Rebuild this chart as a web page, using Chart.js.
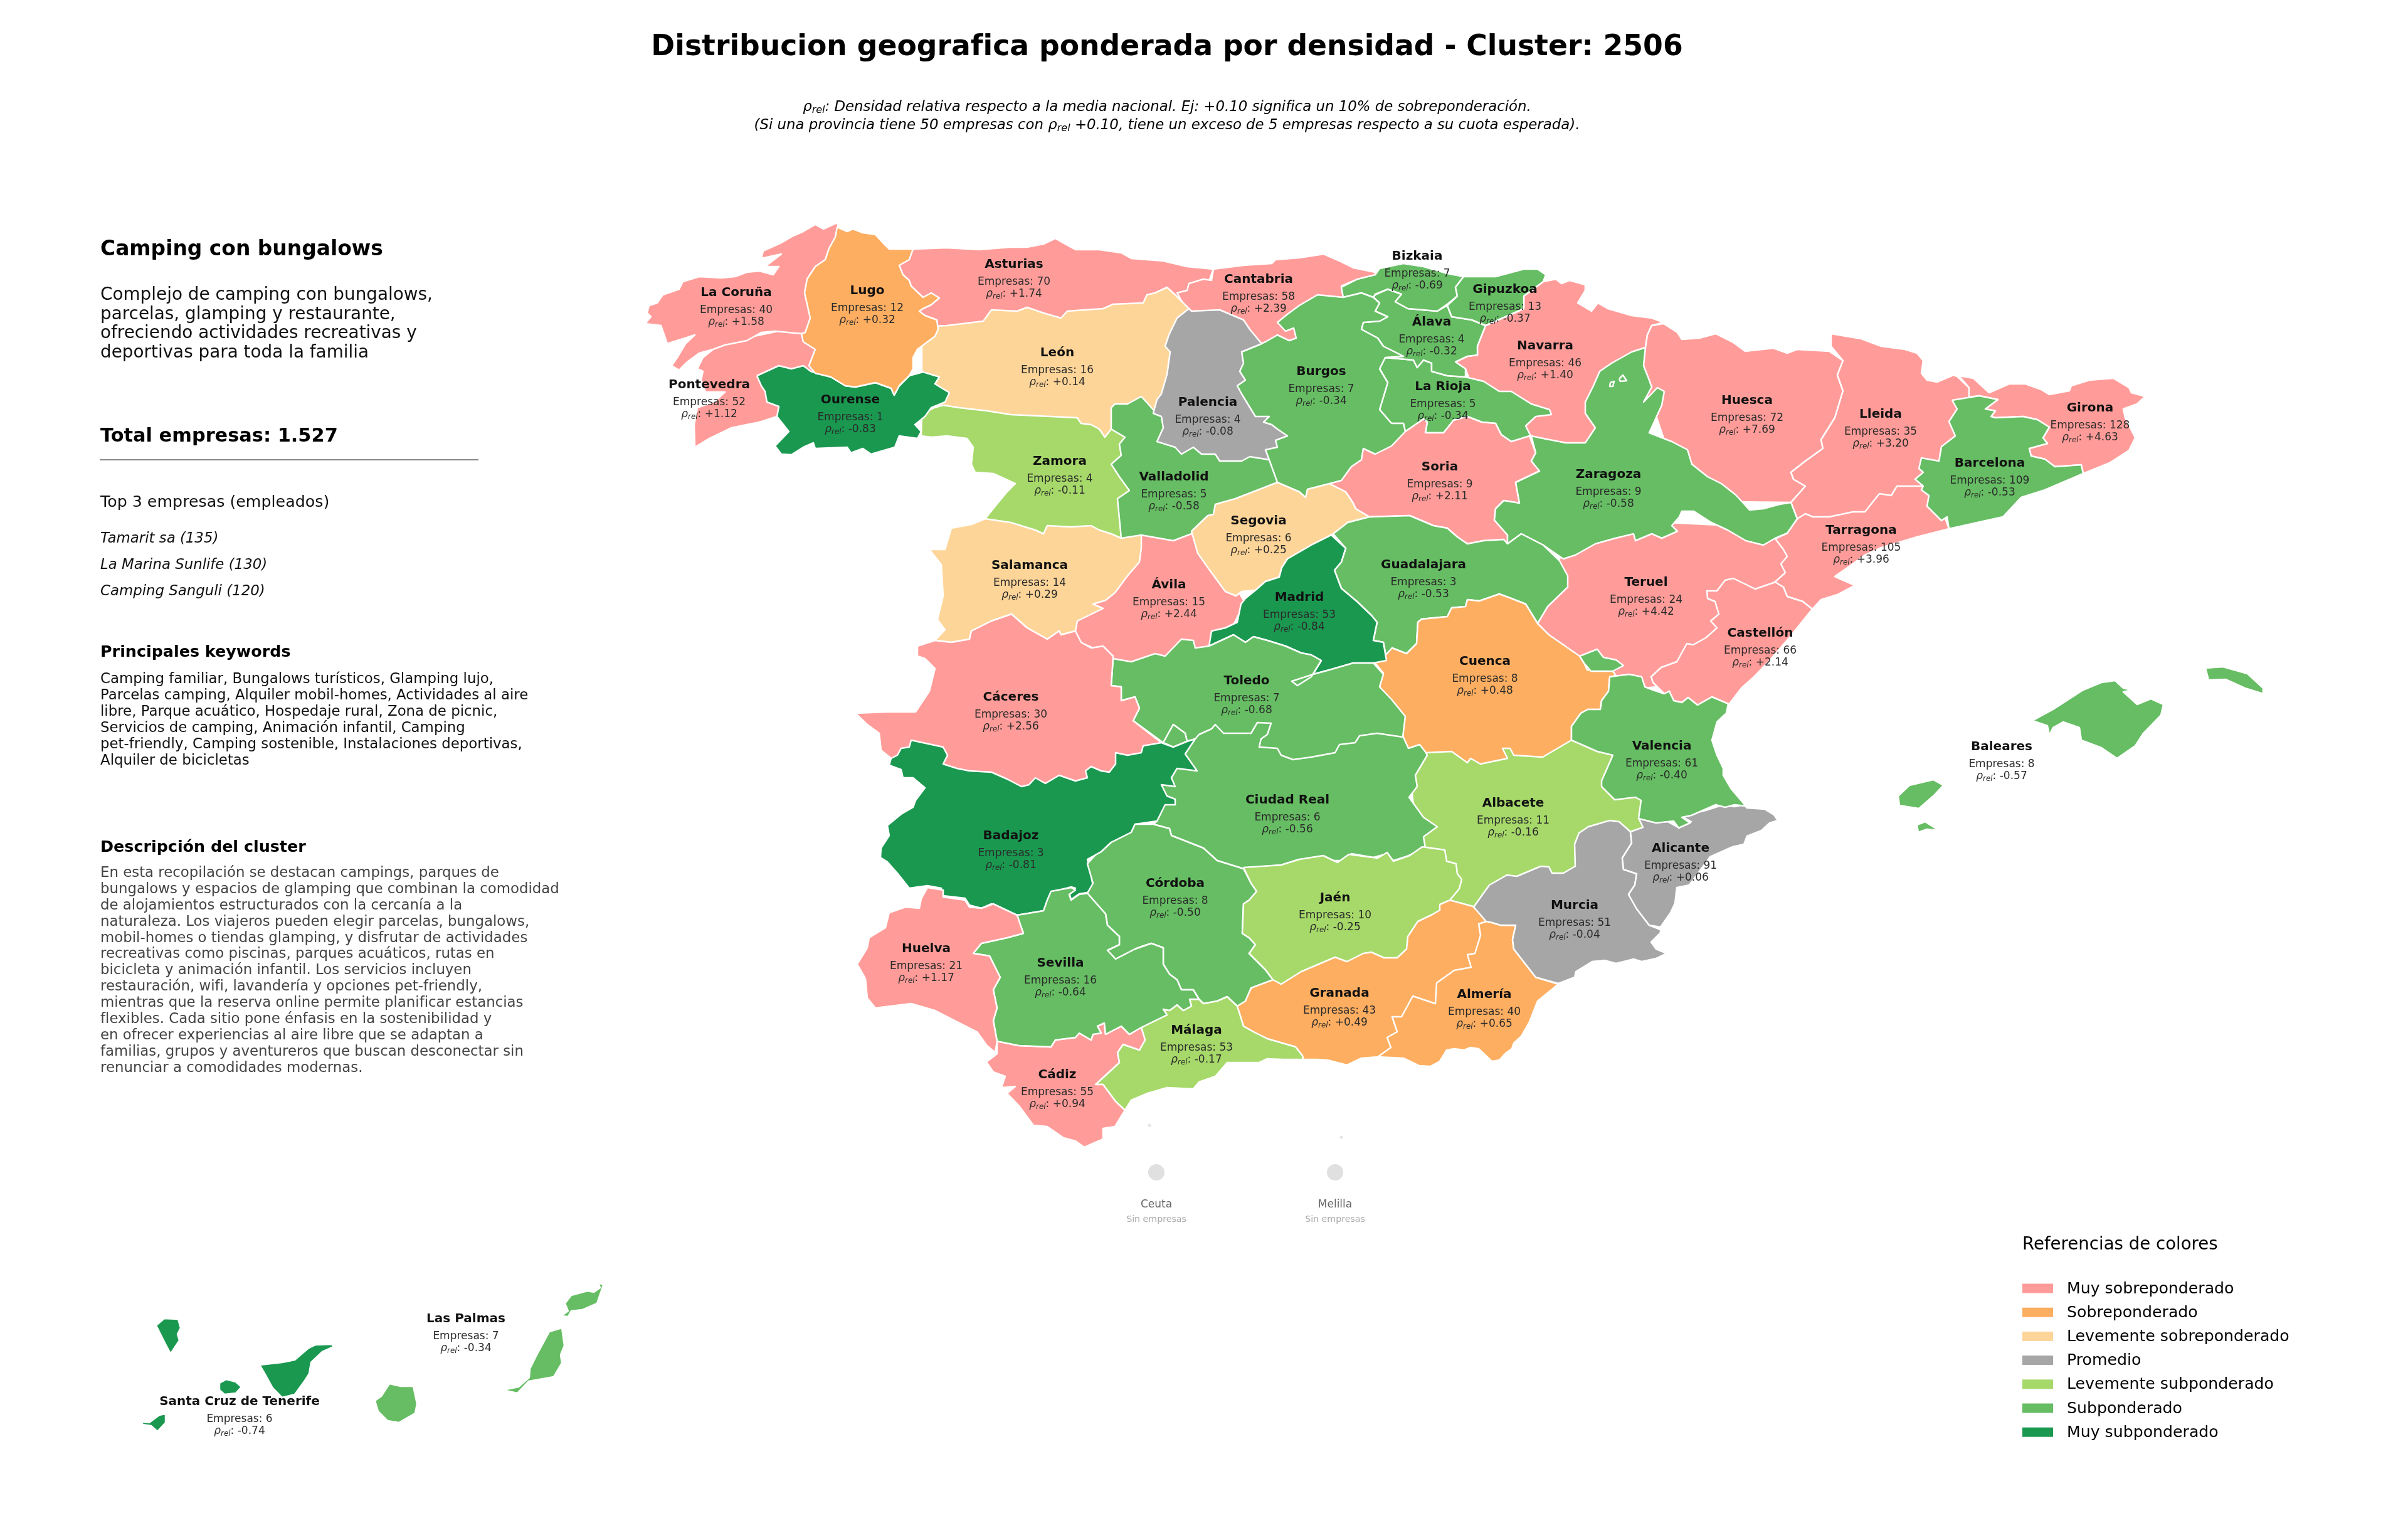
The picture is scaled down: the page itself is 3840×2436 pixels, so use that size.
<!DOCTYPE html>
<html lang="es"><head><meta charset="utf-8"><title>Distribucion geografica</title>
<style>html,body{margin:0;padding:0;background:#fff}canvas{display:block}</style>
<script src="https://cdn.jsdelivr.net/npm/chart.js@4/dist/chart.umd.min.js"></script></head>
<body><canvas id="c" width="3840" height="2436"></canvas>
<script>
// ---- Values ----
const provinceNames=["La Coruña","Lugo","Asturias","León","Pontevedra","Ourense","Palencia","Zamora","Valladolid","Salamanca","Ávila","Cantabria","Bizkaia","Gipuzkoa","Álava","Navarra","Burgos","La Rioja","Soria","Zaragoza","Huesca","Segovia","Guadalajara","Madrid","Teruel","Lleida","Girona","Barcelona","Tarragona","Castellón","Baleares","Toledo","Cáceres","Ciudad Real","Badajoz","Córdoba","Jaén","Huelva","Sevilla","Granada","Málaga","Cádiz","Cuenca","Valencia","Albacete","Alicante","Murcia","Almería","Las Palmas","Santa Cruz de Tenerife"];
const empresas=[40,12,70,16,52,1,4,4,5,14,15,58,7,13,4,46,7,5,9,9,72,6,3,53,24,35,128,109,105,66,8,7,30,6,3,8,10,21,16,43,53,55,8,61,11,91,51,40,7,6];
const rhoRel=[1.58,0.32,1.74,0.14,1.12,-0.83,-0.08,-0.11,-0.58,0.29,2.44,2.39,-0.69,-0.37,-0.32,1.40,-0.34,-0.34,2.11,-0.58,7.69,0.25,-0.53,-0.84,4.42,3.20,4.63,-0.53,3.96,2.14,-0.57,-0.68,2.56,-0.56,-0.81,-0.50,-0.25,1.17,-0.64,0.49,-0.17,0.94,0.48,-0.40,-0.16,0.06,-0.04,0.65,-0.34,-0.74];
const labelX=[1174,1383,1617,1686,1131,1356,1926,1690,1872,1642,1864,2007,2260,2400,2283,2464,2107,2301,2296,2565,2786,2007,2270,2072,2625,2999,3333,3173,2968,2807,3192,1988,1612,2053,1612,1874,2129,1477,1691,2136,1908,1686,2368,2650,2413,2680,2511,2367,743,382];
const labelY=[464,461,419,560,611,635,639,733,758,899,930,443,406,459,511,549,590,614,742,754,636,828,898,950,926,658,648,736,843,1007,1188,1083,1109,1273,1330,1406,1429,1510,1533,1581,1640,1711,1052,1187,1278,1350,1441,1583,2100,2232];
const legendLabels=["Muy sobreponderado","Sobreponderado","Levemente sobreponderado","Promedio","Levemente subponderado","Subponderado","Muy subponderado"];
const legendColors=["#ff9c99","#fdae61","#fed599","#a6a6a6","#a6d96a","#66bd63","#1a9850"];
const emptyCities=["Ceuta","Melilla"];
const emptyCityX=[1844,2129];
const emptyCityY=[1869,1869];
const emptyGeoX=[1833,2139];
const emptyGeoY=[1794,1813];
const keywordLines=["Camping familiar, Bungalows turísticos, Glamping lujo,","Parcelas camping, Alquiler mobil-homes, Actividades al aire","libre, Parque acuático, Hospedaje rural, Zona de picnic,","Servicios de camping, Animación infantil, Camping","pet-friendly, Camping sostenible, Instalaciones deportivas,","Alquiler de bicicletas"];
const descLines=["En esta recopilación se destacan campings, parques de","bungalows y espacios de glamping que combinan la comodidad","de alojamientos estructurados con la cercanía a la","naturaleza. Los viajeros pueden elegir parcelas, bungalows,","mobil-homes o tiendas glamping, y disfrutar de actividades","recreativas como piscinas, parques acuáticos, rutas en","bicicleta y animación infantil. Los servicios incluyen","restauración, wifi, lavandería y opciones pet-friendly,","mientras que la reserva online permite planificar estancias","flexibles. Cada sitio pone énfasis en la sostenibilidad y","en ofrecer experiencias al aire libre que se adaptan a","familias, grupos y aventureros que buscan desconectar sin","renunciar a comodidades modernas."];
const summaryLines=["Complejo de camping con bungalows,","parcelas, glamping y restaurante,","ofreciendo actividades recreativas y","deportivas para toda la familia"];
const topCompanies=["Tamarit sa (135)","La Marina Sunlife (130)","Camping Sanguli (120)"];

// ---- Province outlines in map units (x,y pairs) ----
const asturias=[1459,397,1510,395,1561,398,1612,394,1638,394,1664,389,1683,380,1695,387,1715,398,1753,398,1788,403,1804,412,1855,416,1893,425,1935,429,1920,470,1850,520,1600,540,1520,530,1470,515,1440,470,1425,420,1440,400];
const cantabria=[1935,429,1983,423,2028,420,2034,414,2072,411,2111,405,2136,416,2158,427,2193,434,2193,440,2165,445,2139,456,2142,474,2100,550,2000,560,1950,530,1896,500,1877,467,1893,463,1896,452,1919,445,1932,447];
const leon=[1510,519,1568,512,1581,494,1622,496,1638,490,1664,499,1692,507,1702,496,1759,492,1775,485,1823,483,1829,470,1842,467,1861,458,1874,470,1896,492,1900,620,1880,680,1790,700,1700,720,1520,680,1490,660,1470,600,1470,540,1490,520];
const pontevedra=[1137,550,1278,520,1310,560,1300,600,1260,600,1239,664,1211,673,1166,682,1131,699,1108,713,1107,677,1112,650,1140,640,1156,625,1125,625,1118,606,1121,592,1112,588,1121,570,1137,557];
const coruna=[1335,355,1313,365,1300,358,1281,369,1265,376,1246,387,1217,400,1214,412,1246,405,1220,425,1242,425,1233,438,1211,432,1191,434,1172,441,1150,443,1115,441,1089,449,1083,461,1057,470,1048,483,1035,487,1032,499,1038,505,1029,516,1054,519,1064,548,1108,534,1093,548,1080,570,1071,583,1083,590,1096,577,1115,563,1137,557,1156,550,1191,543,1214,530,1236,528,1278,532,1300,530,1345,400];
const zamora=[1504,646,1530,650,1574,655,1612,661,1676,664,1718,666,1724,675,1740,677,1753,684,1762,697,1772,684,1794,697,1810,800,1790,860,1650,880,1571,827,1587,807,1606,784,1619,771,1584,755,1555,753,1549,740,1552,713,1542,699,1510,695,1485,697,1469,695,1470,660,1490,650];
const ourense=[1207,599,1242,583,1262,588,1281,583,1293,592,1325,601,1348,615,1364,617,1396,610,1421,619,1426,630,1434,615,1450,599,1472,593,1498,601,1491,612,1514,626,1507,641,1485,650,1475,664,1459,677,1469,688,1463,699,1434,695,1427,713,1389,724,1376,715,1357,722,1351,713,1300,715,1297,706,1281,713,1262,725,1246,724,1236,711,1258,688,1239,664,1242,648,1223,641,1220,624,1214,615];
const lugo=[1335,362,1351,369,1360,365,1376,371,1396,374,1408,387,1418,397,1456,397,1450,414,1434,423,1440,438,1450,447,1453,456,1472,474,1485,467,1498,475,1485,486,1472,492,1466,496,1475,503,1494,510,1496,525,1491,536,1475,548,1463,557,1456,570,1456,588,1450,599,1434,615,1426,630,1421,619,1396,610,1364,617,1348,615,1325,601,1300,595,1290,583,1300,557,1281,545,1278,532,1284,530,1292,507,1283,467,1287,445,1300,425,1316,414,1322,396,1332,378];
const teruel=[2480,920,2490,880,2600,830,2800,840,2850,870,2860,920,2800,970,2700,1060,2640,1095,2600,1100,2540,1080,2480,1040,2440,1010,2470,950];
const albacete=[2270,1190,2400,1170,2530,1170,2590,1220,2630,1300,2640,1330,2580,1340,2500,1420,2370,1470,2340,1460,2290,1420,2260,1330,2250,1250,2260,1220];
const ciudadReal=[1900,1150,2230,1150,2260,1175,2276,1204,2257,1236,2260,1254,2247,1271,2270,1303,2292,1318,2270,1334,2273,1352,2244,1365,2222,1372,2212,1361,2190,1367,2155,1361,2142,1372,2123,1372,2113,1365,2110,1374,2072,1370,2043,1379,1983,1385,1941,1372,1919,1352,1868,1332,1865,1321,1839,1314,1845,1309,1850,1250,1885,1190];
const tarragona=[2866,827,2900,800,3000,760,3090,770,3100,820,3108,843,3057,856,3000,873,2974,885,2946,905,2926,919,2939,925,2958,933,2930,948,2904,956,2890,971,2875,959,2850,951,2844,936,2828,930,2847,913,2840,899,2850,887,2844,876,2831,859,2850,850];
const navarra=[2430,472,2461,449,2481,445,2490,452,2503,447,2528,454,2528,463,2516,483,2538,496,2548,483,2564,492,2602,503,2634,507,2653,514,2634,519,2627,534,2624,554,2600,600,2580,700,2450,720,2400,660,2345,610,2337,588,2321,577,2340,568,2356,566,2356,552,2363,534,2369,519,2430,492];
const huesca=[2653,516,2675,530,2682,541,2710,539,2736,532,2764,546,2783,560,2828,555,2850,563,2866,557,2917,560,2939,575,2930,598,2939,623,2926,666,2904,701,2907,715,2879,735,2856,753,2860,764,2879,775,2856,801,2760,800,2660,720,2640,660,2610,600,2624,554,2627,534,2634,519];
const lleida=[2920,532,2968,540,3000,552,3038,557,3057,563,3067,575,3064,595,3073,606,3089,609,3115,598,3121,600,3140,618,3143,632,3150,700,3110,770,3067,775,3025,775,3016,790,2997,787,2974,816,2955,816,2917,824,2891,824,2879,819,2866,827,2856,801,2879,775,2860,764,2856,753,2879,735,2907,715,2904,701,2926,666,2939,623,2930,598,2939,575,2920,552];
const girona=[3124,599,3147,603,3172,626,3204,612,3230,612,3255,621,3268,629,3300,623,3303,615,3332,606,3370,603,3395,618,3399,626,3421,632,3408,644,3386,652,3389,666,3405,698,3395,718,3364,738,3322,755,3319,741,3277,744,3261,732,3239,727,3236,715,3265,707,3258,698,3268,681,3249,669,3226,664,3182,666,3175,664,3182,655,3166,652,3186,637,3156,631,3140,633,3140,618];
const barcelona=[3113,638,3156,631,3186,637,3166,652,3182,655,3175,664,3182,666,3226,664,3249,669,3268,681,3258,698,3265,707,3236,715,3239,727,3261,732,3277,744,3319,741,3322,755,3261,781,3223,793,3194,824,3108,843,3105,824,3096,830,3073,807,3076,790,3064,781,3067,775,3054,764,3067,753,3060,747,3064,730,3092,735,3096,712,3118,695,3108,672,3121,652];
const castellon=[2890,971,2853,1017,2821,1054,2796,1080,2777,1097,2757,1123,2730,1111,2707,1124,2692,1112,2682,1120,2669,1117,2662,1102,2654,1106,2636,1088,2633,1079,2649,1064,2674,1055,2690,1026,2700,1028,2720,1017,2738,1001,2728,990,2741,979,2735,959,2723,954,2722,942,2738,942,2751,925,2764,922,2799,939,2831,928,2844,936,2850,951,2875,959];
const laRioja=[2209,570,2232,572,2254,574,2260,586,2270,574,2283,579,2283,592,2308,599,2337,601,2366,608,2391,624,2410,624,2442,644,2471,653,2474,661,2449,664,2433,679,2441,695,2410,704,2394,693,2385,675,2363,673,2340,664,2318,670,2302,690,2273,690,2276,673,2270,668,2257,677,2241,688,2238,675,2219,675,2200,653,2213,610,2200,588];
const alava=[2193,470,2213,461,2235,469,2225,481,2245,492,2292,496,2308,487,2315,505,2347,510,2369,519,2363,534,2356,552,2356,566,2340,568,2321,577,2337,588,2337,601,2308,599,2283,592,2283,579,2270,574,2260,586,2254,574,2232,572,2209,570,2238,568,2206,552,2197,539,2171,525,2174,514,2200,512,2213,505,2193,496,2200,483,2190,474];
const bizkaia=[2139,458,2165,445,2193,438,2200,428,2238,420,2270,425,2308,436,2334,441,2321,458,2324,472,2308,485,2292,496,2245,492,2225,481,2235,469,2213,461,2193,469,2190,474,2171,467,2142,474];
const gipuzkoa=[2334,441,2385,441,2430,429,2452,429,2465,438,2461,449,2430,472,2430,492,2369,519,2347,510,2315,505,2308,487,2324,472,2321,458];
const burgos=[1980,561,2018,545,2037,534,2056,543,2067,539,2063,523,2050,528,2037,514,2053,501,2072,487,2101,470,2142,474,2171,467,2190,474,2200,483,2193,496,2213,505,2200,512,2174,514,2171,525,2197,539,2206,552,2238,568,2209,570,2200,588,2213,610,2200,653,2219,675,2238,675,2241,688,2200,780,2100,810,2020,800,1960,650,1960,570];
const valladolid=[1772,650,1778,644,1798,644,1820,632,1839,653,1900,650,2000,700,2024,733,2037,769,2000,830,1950,870,1850,880,1788,858,1782,795,1801,782,1785,760,1772,740,1788,726,1785,708,1794,697,1772,684];
const palencia=[1896,492,1900,496,1945,494,1983,510,1993,525,2012,548,1980,561,1983,579,1977,592,1986,606,1973,615,1980,628,2002,664,2024,664,2015,673,2028,677,2037,684,2053,695,2034,702,2037,713,2018,717,2024,733,1993,728,1980,735,1945,735,1938,724,1916,724,1903,713,1884,724,1874,713,1845,704,1855,682,1852,664,1839,659,1845,637,1852,628,1861,597,1866,561,1858,552,1864,534,1877,507];
const avila=[1820,853,1871,862,1900,851,1950,900,1985,960,1960,1010,1950,1050,1800,1070,1760,1040,1700,1015,1730,960,1790,905];
const salamanca=[1571,827,1612,833,1651,845,1664,851,1670,838,1708,840,1740,838,1753,845,1772,851,1788,858,1820,853,1820,874,1817,896,1798,918,1778,945,1763,957,1743,963,1759,970,1718,990,1715,1006,1692,1012,1689,1006,1670,1019,1638,1001,1613,979,1581,990,1549,1006,1546,1019,1517,1024,1491,1021,1507,1004,1495,988,1504,950,1501,900,1482,876,1507,876,1517,842,1549,836];
const segovia=[2037,769,2072,784,2082,793,2085,780,2120,771,2146,784,2158,802,2162,811,2184,824,2149,833,2146,840,2126,851,2091,869,2053,891,2044,905,2040,920,2018,927,2002,941,1980,943,1971,950,1954,943,1929,909,1910,882,1900,847,1926,822,1935,820,1938,804,1970,795];
const soria=[2241,688,2257,677,2270,668,2276,673,2273,690,2302,690,2318,670,2340,664,2363,673,2385,675,2394,693,2410,704,2439,695,2449,722,2442,735,2455,751,2417,769,2423,802,2398,798,2385,811,2383,829,2404,853,2404,867,2398,860,2366,862,2340,867,2324,856,2308,842,2286,838,2248,822,2184,824,2162,811,2158,802,2146,784,2120,771,2139,766,2155,744,2171,733,2174,715,2193,724,2219,711];
const zaragoza=[2624,554,2602,561,2570,579,2551,592,2541,615,2528,641,2528,659,2544,682,2528,706,2497,706,2461,699,2442,695,2449,722,2442,735,2455,751,2417,769,2423,802,2398,798,2385,811,2383,829,2404,853,2404,867,2426,851,2461,869,2493,891,2512,885,2544,867,2576,858,2605,851,2608,862,2634,851,2650,858,2675,847,2666,838,2678,824,2682,815,2701,815,2729,833,2755,845,2784,862,2812,869,2831,858,2850,850,2866,827,2856,801,2838,804,2812,811,2790,813,2768,789,2745,771,2723,760,2698,740,2691,717,2666,704,2630,690,2650,646,2654,624,2643,618,2621,641,2634,617,2630,606,2621,583];
const zaragozaIsleA=[2582,604,2588,598,2594,607,2584,608];
const zaragozaIsleB=[2568,610,2574,608,2572,616,2567,616];
const guadalajara=[2126,851,2149,833,2184,824,2248,822,2286,838,2308,842,2324,856,2340,867,2366,862,2398,860,2404,867,2426,851,2461,869,2487,894,2500,918,2500,936,2468,967,2452,994,2433,963,2410,954,2391,947,2359,958,2340,956,2337,967,2315,969,2308,983,2267,987,2261,992,2259,1026,2243,1042,2220,1033,2210,1044,2206,1024,2190,1021,2196,992,2187,981,2164,959,2139,938,2128,909,2139,896,2146,874];
const cuenca=[2452,994,2470,1012,2519,1046,2526,1057,2531,1068,2572,1070,2577,1077,2567,1079,2565,1102,2554,1117,2552,1131,2532,1131,2521,1137,2506,1158,2506,1180,2460,1207,2414,1204,2408,1193,2396,1193,2404,1209,2361,1218,2345,1209,2340,1216,2315,1198,2274,1200,2264,1187,2246,1193,2237,1173,2238,1140,2226,1124,2200,1095,2206,1073,2193,1057,2210,1044,2220,1033,2243,1042,2259,1026,2261,992,2267,987,2308,983,2315,969,2337,967,2340,956,2359,958,2391,947,2410,954,2433,963];
const madrid=[2123,853,2146,874,2139,896,2128,909,2139,938,2164,959,2187,981,2196,992,2190,1021,2206,1024,2211,1053,2190,1057,2158,1057,2120,1068,2094,1075,2078,1084,2060,1086,2069,1093,2091,1079,2107,1053,2091,1044,2075,1041,2050,1030,2021,1021,1999,1015,1986,1024,1967,1012,1928,1030,1932,1006,1954,1001,1973,992,1979,963,1986,954,2002,941,2018,927,2040,920,2044,905,2053,891,2091,869];
const toledo=[1775,1050,1804,1055,1842,1042,1858,1046,1884,1019,1903,1021,1906,1033,1928,1030,1967,1012,1986,1024,1999,1015,2021,1021,2050,1030,2075,1041,2091,1044,2107,1053,2091,1079,2069,1093,2060,1086,2094,1075,2120,1068,2158,1057,2190,1057,2206,1075,2200,1095,2219,1115,2241,1142,2237,1175,2196,1169,2168,1173,2161,1184,2136,1187,2129,1200,2091,1207,2062,1211,2043,1204,2037,1193,2008,1191,2011,1178,2021,1171,2027,1153,2005,1152,1995,1169,1951,1169,1938,1155,1932,1162,1912,1171,1906,1178,1893,1182,1890,1169,1871,1155,1855,1184,1807,1149,1817,1129,1810,1111,1788,1117,1788,1095,1772,1093];
const toledoEnclave=[1855,1184,1871,1155,1890,1169,1893,1182,1871,1191];
const caceres=[1491,1021,1517,1024,1546,1019,1549,1006,1581,990,1613,979,1638,1001,1670,1019,1689,1006,1692,1012,1715,1006,1724,1024,1740,1033,1759,1030,1775,1046,1775,1050,1772,1093,1788,1095,1788,1117,1810,1111,1817,1129,1807,1149,1852,1184,1800,1260,1600,1280,1500,1250,1421,1209,1405,1196,1402,1169,1383,1155,1364,1137,1415,1135,1460,1135,1482,1102,1491,1066,1475,1050,1463,1046,1463,1030];
const badajoz=[1453,1180,1504,1191,1511,1204,1504,1218,1526,1225,1546,1229,1581,1231,1606,1242,1629,1254,1641,1251,1651,1240,1667,1249,1689,1236,1715,1245,1734,1240,1731,1229,1740,1222,1756,1229,1769,1231,1779,1218,1779,1200,1798,1204,1820,1200,1823,1189,1852,1184,1871,1191,1893,1182,1906,1178,1890,1202,1909,1229,1877,1225,1868,1240,1874,1254,1852,1251,1861,1269,1874,1274,1874,1283,1858,1283,1845,1309,1810,1314,1804,1327,1772,1343,1756,1358,1734,1370,1740,1396,1743,1412,1734,1423,1721,1425,1708,1434,1705,1423,1715,1416,1708,1414,1676,1423,1670,1441,1664,1452,1622,1459,1603,1452,1581,1441,1565,1448,1546,1443,1539,1432,1504,1428,1501,1416,1479,1412,1450,1416,1431,1392,1415,1374,1404,1367,1405,1352,1418,1332,1415,1316,1437,1298,1456,1287,1460,1276,1475,1256,1456,1240,1440,1240,1437,1227,1418,1220,1421,1209,1431,1204,1437,1193,1450,1191];
const cordoba=[1839,1314,1865,1321,1868,1332,1919,1352,1941,1372,1983,1385,1995,1408,2004,1421,1992,1435,1983,1441,1981,1488,1992,1495,2002,1506,1992,1520,2018,1546,2030,1562,1995,1575,1986,1596,1973,1604,1957,1589,1941,1596,1919,1600,1912,1593,1903,1578,1884,1578,1877,1562,1865,1553,1855,1537,1855,1511,1836,1504,1823,1508,1810,1513,1779,1529,1766,1515,1785,1506,1785,1493,1766,1475,1763,1457,1734,1424,1743,1408,1734,1377,1747,1363,1756,1358,1772,1343,1804,1327,1810,1314];
const jaen=[1983,1383,2043,1379,2072,1370,2110,1364,2133,1375,2151,1362,2197,1368,2212,1359,2222,1373,2248,1364,2268,1350,2304,1355,2307,1373,2322,1377,2324,1393,2331,1402,2327,1417,2312,1435,2296,1442,2296,1451,2284,1458,2261,1469,2245,1493,2243,1513,2228,1527,2207,1527,2187,1518,2174,1520,2148,1533,2129,1526,2075,1549,2043,1569,2030,1562,2018,1546,1992,1520,2002,1506,1992,1495,1981,1488,1983,1441,1992,1435,2004,1421,1995,1408];
const granada=[2078,1689,2077,1683,2066,1669,2021,1656,1999,1645,1983,1636,1973,1604,2000,1570,2030,1540,2250,1440,2290,1440,2312,1435,2349,1445,2373,1468,2380,1500,2300,1680,2197,1685,2171,1687,2148,1698,2117,1690,2100,1689];
const almeria=[2373,1468,2380,1471,2393,1475,2417,1475,2412,1498,2414,1513,2449,1558,2485,1569,2452,1596,2439,1629,2426,1652,2414,1663,2411,1672,2401,1679,2391,1690,2379,1692,2358,1672,2345,1670,2335,1674,2319,1672,2307,1674,2296,1692,2281,1700,2263,1699,2238,1687,2197,1685,2218,1670,2212,1654,2228,1645,2220,1621,2235,1621,2253,1588,2271,1594,2289,1600,2291,1567,2319,1547,2346,1542,2340,1522,2352,1520,2361,1491,2358,1473];
const murcia=[2350,1446,2375,1411,2403,1395,2419,1397,2457,1381,2470,1382,2475,1392,2493,1392,2512,1381,2511,1346,2518,1328,2533,1318,2567,1308,2582,1310,2600,1326,2602,1344,2587,1368,2589,1386,2610,1393,2607,1411,2597,1426,2610,1449,2630,1475,2648,1482,2648,1487,2633,1502,2641,1513,2658,1520,2641,1528,2618,1533,2605,1529,2577,1536,2559,1531,2539,1533,2513,1549,2511,1558,2485,1568,2449,1558,2414,1513,2412,1498,2417,1475,2393,1475,2380,1471,2370,1469];
const alicante=[2613,1304,2633,1310,2656,1308,2676,1319,2697,1310,2681,1301,2720,1292,2748,1283,2766,1286,2781,1283,2786,1288,2814,1290,2829,1299,2835,1308,2822,1312,2809,1324,2786,1333,2781,1346,2763,1350,2727,1366,2694,1411,2674,1415,2671,1440,2664,1455,2648,1478,2630,1475,2610,1449,2597,1426,2607,1411,2610,1393,2589,1386,2587,1368,2602,1344,2600,1326,2620,1319];
const valencia=[2567,1079,2598,1075,2618,1079,2623,1095,2636,1100,2654,1106,2662,1102,2669,1117,2682,1120,2692,1112,2707,1124,2730,1111,2756,1122,2753,1137,2738,1151,2730,1180,2738,1204,2748,1225,2748,1236,2761,1258,2784,1285,2766,1283,2751,1287,2736,1283,2697,1300,2682,1303,2695,1312,2677,1320,2669,1309,2641,1312,2613,1305,2617,1276,2608,1271,2575,1275,2554,1254,2554,1245,2572,1204,2547,1198,2506,1180,2506,1158,2521,1137,2532,1131,2552,1131,2554,1117,2565,1102];
const valenciaAdemuz=[2519,1046,2547,1035,2557,1048,2577,1052,2589,1061,2572,1070,2537,1070,2526,1057];
const malaga=[1820,1638,1861,1618,1855,1609,1865,1611,1877,1602,1887,1611,1900,1604,1897,1593,1912,1593,1919,1600,1941,1596,1957,1589,1973,1604,1983,1636,1999,1645,2021,1656,2066,1669,2077,1683,2078,1689,2046,1689,2021,1688,2008,1694,1957,1694,1938,1716,1912,1725,1903,1736,1861,1734,1830,1743,1804,1754,1794,1770,1779,1756,1759,1729,1747,1729,1785,1694,1782,1678,1791,1665,1817,1674,1826,1658];
const cadiz=[1590,1660,1625,1667,1676,1669,1683,1658,1715,1654,1721,1647,1740,1658,1743,1649,1756,1647,1750,1636,1761,1631,1763,1649,1788,1636,1801,1649,1820,1638,1826,1658,1817,1674,1791,1665,1782,1678,1785,1694,1747,1729,1759,1729,1779,1756,1794,1770,1778,1796,1759,1799,1759,1816,1729,1829,1715,1819,1696,1814,1670,1796,1648,1794,1625,1763,1606,1743,1619,1732,1597,1734,1603,1716,1584,1709,1573,1693,1590,1680];
const sevilla=[1622,1459,1664,1452,1670,1435,1676,1421,1708,1415,1715,1419,1705,1426,1708,1435,1721,1426,1734,1424,1763,1457,1766,1475,1785,1493,1785,1506,1766,1515,1779,1529,1810,1513,1836,1504,1855,1511,1855,1537,1865,1553,1877,1562,1884,1578,1903,1578,1912,1593,1897,1593,1900,1604,1887,1611,1877,1602,1865,1611,1855,1609,1861,1618,1820,1638,1801,1649,1788,1636,1763,1649,1761,1631,1750,1636,1756,1647,1743,1649,1740,1658,1721,1647,1715,1654,1683,1658,1676,1669,1625,1667,1590,1660,1584,1627,1590,1607,1584,1578,1595,1558,1578,1524,1552,1520,1565,1504,1606,1495,1632,1488,1625,1470];
const huelva=[1479,1415,1504,1419,1504,1430,1539,1435,1546,1446,1565,1448,1584,1441,1622,1459,1632,1488,1606,1495,1565,1504,1552,1520,1578,1524,1595,1558,1584,1578,1590,1607,1584,1627,1590,1660,1587,1678,1574,1667,1558,1645,1491,1611,1453,1600,1396,1607,1383,1591,1380,1560,1367,1537,1383,1511,1386,1495,1412,1479,1418,1455,1444,1446,1466,1448,1469,1433];
const mallorca=[3241,1149,3274,1131,3322,1100,3351,1088,3373,1085,3386,1097,3399,1100,3386,1103,3408,1123,3430,1114,3450,1123,3446,1140,3418,1169,3405,1189,3376,1209,3351,1192,3319,1180,3316,1160,3290,1151,3274,1160,3268,1172,3265,1157];
const menorca=[3517,1065,3545,1063,3584,1074,3609,1097,3609,1106,3580,1097,3549,1083,3522,1084];
const ibiza=[3027,1269,3045,1252,3083,1243,3099,1252,3083,1269,3060,1289,3029,1284];
const formentera=[3057,1315,3070,1310,3092,1324,3073,1322,3059,1327];
const laPalma=[249,2113,262,2102,284,2103,288,2117,283,2127,286,2137,272,2158,264,2143];
const tenerife=[414,2176,450,2172,470,2168,491,2150,503,2144,529,2143,532,2147,514,2155,496,2172,493,2190,486,2201,470,2223,450,2228,435,2213,424,2193];
const laGomera=[350,2205,361,2199,376,2203,385,2211,376,2221,358,2223,350,2216];
const elHierro=[227,2267,238,2268,254,2256,264,2254,264,2268,251,2282,241,2273,227,2271];
const granCanaria=[621,2206,639,2210,659,2210,665,2238,662,2253,636,2268,618,2265,603,2250,598,2233,608,2226];
const fuerteventura=[876,2123,896,2117,900,2145,894,2160,896,2173,883,2195,843,2202,825,2221,802,2216,827,2211,844,2196,845,2182,855,2162];
const lanzarote=[895,2098,906,2090,901,2078,911,2065,937,2058,947,2060,957,2053,954,2045,962,2048,960,2055,952,2078,929,2088,911,2090,906,2099];
const laGraciosa=[949,2043,953,2036,952,2044];

// draw order: first entry is painted first; shape = [province name, outline]
const drawOrder=[["Asturias",asturias],["Cantabria",cantabria],["León",leon],["Pontevedra",pontevedra],["La Coruña",coruna],["Zamora",zamora],["Ourense",ourense],["Lugo",lugo],["Teruel",teruel],["Albacete",albacete],["Ciudad Real",ciudadReal],["Tarragona",tarragona],["Navarra",navarra],["Huesca",huesca],["Lleida",lleida],["Girona",girona],["Barcelona",barcelona],["Castellón",castellon],["La Rioja",laRioja],["Álava",alava],["Bizkaia",bizkaia],["Gipuzkoa",gipuzkoa],["Burgos",burgos],["Valladolid",valladolid],["Palencia",palencia],["Ávila",avila],["Salamanca",salamanca],["Segovia",segovia],["Soria",soria],["Zaragoza",zaragoza],["Zaragoza",zaragozaIsleA],["Zaragoza",zaragozaIsleB],["Guadalajara",guadalajara],["Cuenca",cuenca],["Madrid",madrid],["Toledo",toledo],["Toledo",toledoEnclave],["Cáceres",caceres],["Badajoz",badajoz],["Granada",granada],["Córdoba",cordoba],["Jaén",jaen],["Almería",almeria],["Murcia",murcia],["Alicante",alicante],["Valencia",valencia],["Valencia",valenciaAdemuz],["Málaga",malaga],["Cádiz",cadiz],["Sevilla",sevilla],["Huelva",huelva],["Baleares",mallorca],["Baleares",menorca],["Baleares",ibiza],["Baleares",formentera],["Santa Cruz de Tenerife",laPalma],["Santa Cruz de Tenerife",tenerife],["Santa Cruz de Tenerife",laGomera],["Santa Cruz de Tenerife",elHierro],["Las Palmas",granCanaria],["Las Palmas",fuerteventura],["Las Palmas",lanzarote],["Las Palmas",laGraciosa]];

function colorFor(r){
  if(r>=0.8)return legendColors[0];
  if(r>=0.3)return legendColors[1];
  if(r>=0.1)return legendColors[2];
  if(r>-0.1)return legendColors[3];
  if(r>-0.3)return legendColors[4];
  if(r>-0.7)return legendColors[5];
  return legendColors[6];
}
function ring(flat){
  const pts=[];
  for(let i=0;i<flat.length;i+=2)pts.push({x:flat[i],y:flat[i+1]});
  pts.push({x:flat[0],y:flat[1]});
  return pts;
}
const FONT='"DejaVu Sans"';
const TEXT_DY=3;
const shapes=drawOrder.map(([name,flat])=>{
  const r=rhoRel[provinceNames.indexOf(name)];
  return {type:'scatter',label:name,data:ring(flat),showLine:true,fill:'shape',tension:0,
    backgroundColor:colorFor(r),borderColor:'#ffffff',borderWidth:2.5,borderJoinStyle:'round',pointRadius:0,pointHoverRadius:0};
});
const cities={type:'scatter',label:'Sin empresas',data:emptyCities.map((n,i)=>({x:emptyCityX[i],y:emptyCityY[i]})),
  showLine:false,pointRadius:13,pointBackgroundColor:'#e0e0e0',pointBorderWidth:0};
const cityGeo={type:'scatter',label:'Ceuta y Melilla',data:emptyGeoX.map((x,i)=>({x,y:emptyGeoY[i]})),
  showLine:false,pointRadius:2.5,pointBackgroundColor:'#e4e4e4',pointBorderWidth:0};

function fmtRho(v){return (v>=0?'+':'-')+Math.abs(v).toFixed(2);}

const textPlugin={id:'texts',afterDatasetsDraw(chart){
  const c=chart.ctx,X=chart.scales.x,Y=chart.scales.y;
  const T=(s,x,y,font,color,align)=>{c.font=font+' '+FONT;c.fillStyle=color||'#000';c.textAlign=align||'left';c.textBaseline='middle';c.fillText(s,X.getPixelForValue(x),Y.getPixelForValue(y+TEXT_DY));};
  c.save();
  // heading
  T("Distribucion geografica ponderada por densidad - Cluster: 2506",1861,73,'bold 45.67px','#000','center');
  // note with rho-rel
  const rhoLine=(pre,post,x,y,size,color,ital)=>{
    c.textBaseline='middle';
    const f=ital?'italic ':'';
    c.font=f+size+'px '+FONT;const wPre=c.measureText(pre).width;const wPost=c.measureText(post).width;
    c.font='italic '+size+'px '+FONT;const wRho=c.measureText('ρ').width;
    c.font='italic '+(size*0.7)+'px '+FONT;const wSub=c.measureText('rel').width;
    let px=X.getPixelForValue(x)-(wPre+wRho+wSub+wPost)/2;const py=Y.getPixelForValue(y+TEXT_DY);
    c.textAlign='left';c.fillStyle=color;
    if(pre){c.font=f+size+'px '+FONT;c.fillText(pre,px,py);px+=wPre;}
    c.font='italic '+size+'px '+FONT;c.fillText('ρ',px,py);px+=wRho;
    c.font='italic '+(size*0.7)+'px '+FONT;c.fillText('rel',px,py+size*0.22);px+=wSub;
    c.font=f+size+'px '+FONT;c.fillText(post,px,py);
  };
  rhoLine('',": Densidad relativa respecto a la media nacional. Ej: +0.10 significa un 10% de sobreponderación.",1861,168,22.85,'#000',true);
  rhoLine("(Si una provincia tiene 50 empresas con "," +0.10, tiene un exceso de 5 empresas respecto a su cuota esperada).",1861,197,22.85,'#000',true);
  // province labels
  provinceNames.forEach((n,i)=>{
    T(n,labelX[i],labelY[i],'bold 20px','#111','center');
    T("Empresas: "+empresas[i],labelX[i],labelY[i]+28,'17px','#2a2a2a','center');
    rhoLine('',": "+fmtRho(rhoRel[i]),labelX[i],labelY[i]+47,17,'#2a2a2a',false);
  });
  // empty cities
  emptyCities.forEach((n,i)=>{
    T(n,emptyCityX[i],1918,'17px','#666','center');
    T("Sin empresas",emptyCityX[i],1941,'14.2px','#aaa','center');
  });
  // side panel
  T("Camping con bungalows",160,395,'bold 32.9px','#000');
  summaryLines.forEach((s,i)=>T(s,160,[468,499,529,560][i],'27.85px','#111'));
  T("Total empresas: 1.527",160,693,'bold 30.4px','#000');
  T("Top 3 empresas (empleados)",160,798,'25.3px','#111');
  topCompanies.forEach((s,i)=>T(s,160,856+i*42,'italic 22.85px','#111'));
  T("Principales keywords",160,1037,'bold 25.4px','#000');
  keywordLines.forEach((s,i)=>T(s,160,1080+i*26,'22.85px','#111'));
  T("Descripción del cluster",160,1348,'bold 25.4px','#000');
  descLines.forEach((s,i)=>T(s,160,1389+i*25.9,'22.85px','#444'));
  // rule under total
  c.strokeStyle='#888';c.lineWidth=2;c.beginPath();c.moveTo(X.getPixelForValue(159),Y.getPixelForValue(733));c.lineTo(X.getPixelForValue(763),Y.getPixelForValue(733));c.stroke();
  // legend
  T("Referencias de colores",3225,1982,'27.6px','#000');
  legendLabels.forEach((s,i)=>{
    const y=2052+i*38.2;
    c.fillStyle=legendColors[i];
    c.fillRect(X.getPixelForValue(3225),Y.getPixelForValue(y-5.5),49,15);
    T(s,3296,y,'25.2px','#000');
  });
  c.restore();
}};

new Chart(document.getElementById('c'),{
  type:'scatter',
  data:{datasets:[cities,cityGeo,...shapes.slice().reverse()]},
  options:{responsive:false,animation:false,devicePixelRatio:1,
    layout:{padding:0,autoPadding:false},
    scales:{x:{type:'linear',min:0,max:3840,display:false},y:{type:'linear',min:0,max:2436,reverse:true,display:false}},
    plugins:{legend:{display:false},tooltip:{enabled:false},title:{display:false}},
    events:[]
  },
  plugins:[textPlugin]
});
</script></body></html>
